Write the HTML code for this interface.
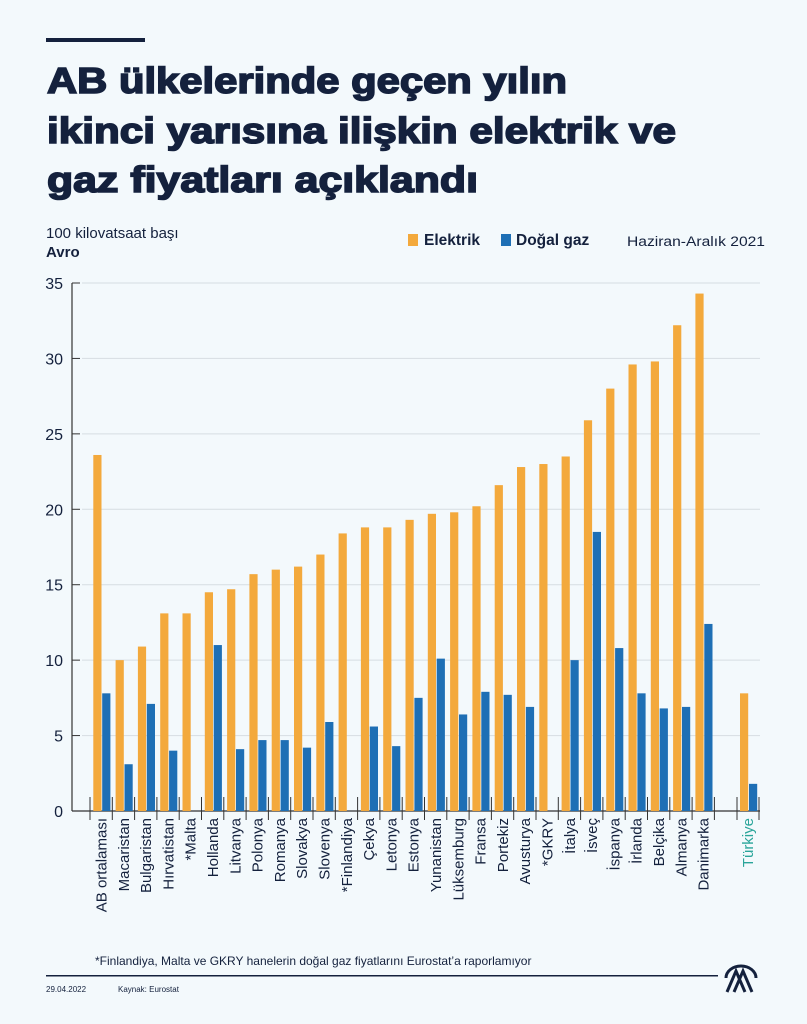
<!DOCTYPE html>
<html><head><meta charset="utf-8"><style>
html,body{margin:0;padding:0;background:#f3f9fc;}
svg{display:block;font-family:"Liberation Sans",sans-serif;}
</style></head><body>
<svg width="807" height="1024" viewBox="0 0 807 1024" xmlns="http://www.w3.org/2000/svg">
<rect width="807" height="1024" fill="#f3f9fc"/>
<rect x="46" y="38" width="99" height="4" fill="#14213d"/>
<g fill="#14213d" stroke="#14213d" stroke-width="1.6" font-weight="bold" font-size="36">
<text x="47" y="93" textLength="520" lengthAdjust="spacingAndGlyphs">AB ülkelerinde geçen yılın</text>
<text x="47" y="143" textLength="629" lengthAdjust="spacingAndGlyphs">ikinci yarısına ilişkin elektrik ve</text>
<text x="47" y="192" textLength="431" lengthAdjust="spacingAndGlyphs">gaz fiyatları açıklandı</text>
</g>
<text x="46" y="238" font-size="15" fill="#14213d">100 kilovatsaat başı</text>
<text x="46" y="257" font-size="15" font-weight="bold" fill="#14213d">Avro</text>
<rect x="408" y="234" width="10" height="12" fill="#f3a93c"/>
<text x="424" y="245" font-size="15.5" font-weight="bold" fill="#14213d">Elektrik</text>
<rect x="501" y="234" width="10" height="12" fill="#1e6fb5"/>
<text x="516" y="245" font-size="15.5" font-weight="bold" fill="#14213d">Doğal gaz</text>
<text x="627" y="246" font-size="13.5" fill="#14213d" textLength="138" lengthAdjust="spacingAndGlyphs">Haziran-Aralık 2021</text>
<g id="chart"></g>
<text x="95" y="965" font-size="12" fill="#14213d">*Finlandiya, Malta ve GKRY hanelerin doğal gaz fiyatlarını Eurostat’a raporlamıyor</text>
<rect x="46" y="975" width="672" height="1.5" fill="#14213d"/>
<text x="46" y="992" font-size="8" fill="#14213d">29.04.2022</text>
<text x="118" y="992" font-size="8" fill="#14213d">Kaynak: Eurostat</text>
<g fill="none" stroke="#14213d" stroke-width="3">
<path d="M727 992 L736 971 L745 992 M734 992 L743 971 L752 992"/>
<path d="M726 978 A15 12 0 0 1 756 978"/>
</g>
</svg>
<script>
const d=[["AB ortalaması",23.6,7.8],["Macaristan",10.0,3.1],["Bulgaristan",10.9,7.1],["Hırvatistan",13.1,4.0],["*Malta",13.1,null],["Hollanda",14.5,11.0],["Litvanya",14.7,4.1],["Polonya",15.7,4.7],["Romanya",16.0,4.7],["Slovakya",16.2,4.2],["Slovenya",17.0,5.9],["*Finlandiya",18.4,null],["Çekya",18.8,5.6],["Letonya",18.8,4.3],["Estonya",19.3,7.5],["Yunanistan",19.7,10.1],["Lüksemburg",19.8,6.4],["Fransa",20.2,7.9],["Portekiz",21.6,7.7],["Avusturya",22.8,6.9],["*GKRY",23.0,null],["İtalya",23.5,10.0],["İsveç",25.9,18.5],["İspanya",28.0,10.8],["İrlanda",29.6,7.8],["Belçika",29.8,6.8],["Almanya",32.2,6.9],["Danimarka",34.3,12.4]];
const y0=811,k=(811-283)/35;let s='';
for(let v=0;v<=35;v+=5){const y=y0-v*k;
 if(v>0)s+=`<line x1="82" x2="760" y1="${y}" y2="${y}" stroke="#d6dde2" stroke-width="1"/>`;
 s+=`<line x1="72" x2="80" y1="${y}" y2="${y}" stroke="#333" stroke-width="1"/>`;
 s+=`<text x="63" y="${y+6}" font-size="16" fill="#14213d" text-anchor="end">${v}</text>`;}
s+=`<line x1="72" x2="72" y1="283" y2="${y0}" stroke="#333" stroke-width="1.2"/>`;
s+=`<line x1="72" x2="760" y1="${y0}" y2="${y0}" stroke="#333" stroke-width="1.2"/>`;
const bar=(x,v,c)=>`<rect x="${x}" y="${y0-v*k}" width="8.2" height="${v*k}" fill="${c}"/>`;
const lab=(x,t,c)=>`<text transform="translate(${x},818) rotate(-90)" font-size="15" fill="${c}" text-anchor="end">${t}</text>`;
for(let i=0;i<=28;i++){const x=90+22.3*i;s+=`<line x1="${x}" x2="${x}" y1="797" y2="820" stroke="#333" stroke-width="1"/>`;}
d.forEach((r,i)=>{const x=90+22.3*i;s+=bar(x+3.3,r[1],"#f3a93c");if(r[2]!=null)s+=bar(x+12.2,r[2],"#1e6fb5");s+=lab(x+16.5,r[0],"#14213d");});
[737,759].forEach(x=>s+=`<line x1="${x}" x2="${x}" y1="797" y2="820" stroke="#333" stroke-width="1"/>`);
s+=bar(740,7.8,"#f3a93c")+bar(749,1.8,"#1e6fb5")+lab(753,"Türkiye","#2aa59a");
document.getElementById('chart').innerHTML=s;
</script>
</body></html>
